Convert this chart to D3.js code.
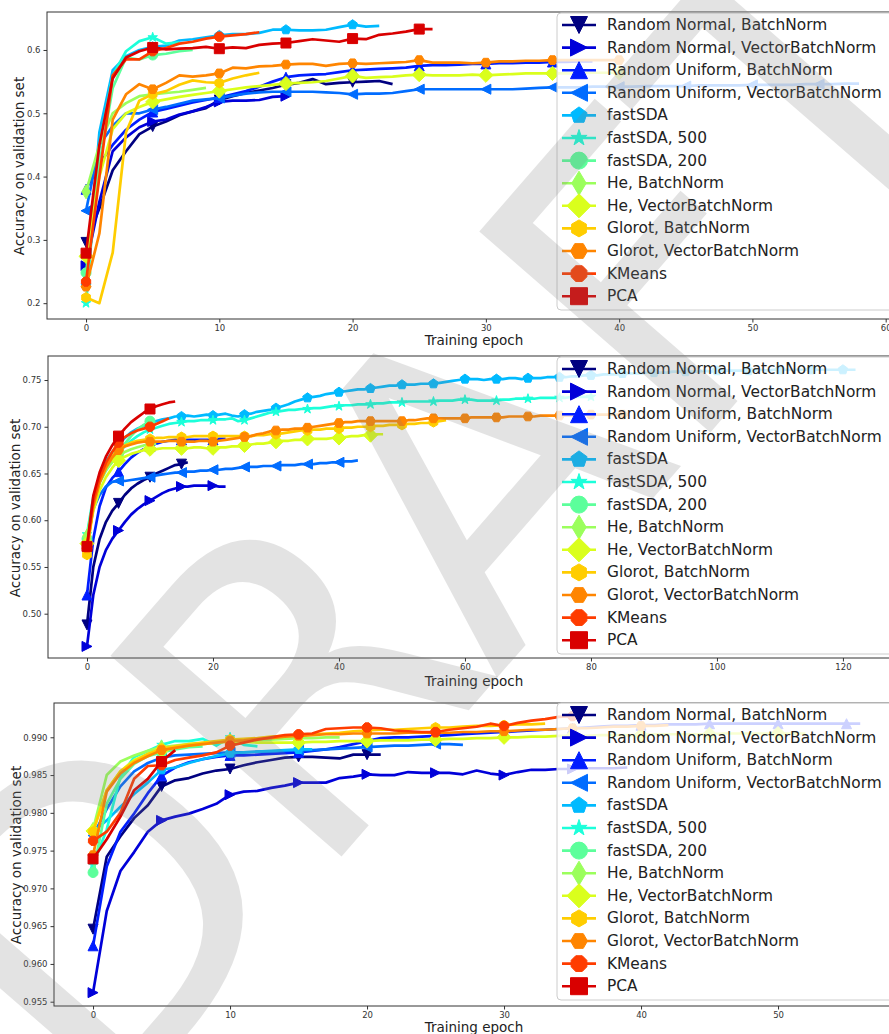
<!DOCTYPE html>
<html>
<head>
<meta charset="utf-8">
<script src="https://cdn.jsdelivr.net/npm/d3@7"></script>
<style>
  body { margin: 0; background: #fff; }
  svg { display: block; font-family: "DejaVu Sans", sans-serif; }
</style>
</head>
<body>
<svg id="chart" width="889" height="1034"></svg>
<script>
// legend entries, in plotting order
var seriesNames = [
  "Random Normal, BatchNorm", "Random Normal, VectorBatchNorm",
  "Random Uniform, BatchNorm", "Random Uniform, VectorBatchNorm",
  "fastSDA", "fastSDA, 500", "fastSDA, 200",
  "He, BatchNorm", "He, VectorBatchNorm",
  "Glorot, BatchNorm", "Glorot, VectorBatchNorm",
  "KMeans", "PCA"
];
// jet colormap sampled at i/13
var jet = ["#000080", "#0000d9", "#001dff", "#006cff", "#00baff", "#1cffda", "#5cff9b",
           "#9bff5c", "#daff1c", "#ffcd00", "#ff8500", "#ff3c00", "#d90000"];
var markerKinds = ["v", ">", "^", "<", "p", "*", "o", "d", "D", "h", "H", "8", "s"];

// ---- panel 1 : accuracy per epoch (epoch = index)
var p1RandNormBN = [0.296,0.35,0.41,0.44,0.467,0.479,0.487,0.497,0.503,0.508,0.521,0.527,0.532,0.536,0.540,0.545,0.548,0.554,0.546,0.548,0.549,0.550,0.551,0.546];
var p1RandNormVBN = [0.259,0.36,0.44,0.462,0.478,0.487,0.49,0.498,0.503,0.51,0.518,0.52,0.52,0.521,0.526,0.527];
var p1RandUnifBN = [0.38,0.42,0.45,0.474,0.49,0.502,0.507,0.512,0.517,0.521,0.525,
  0.53,0.535,0.542,0.55,0.557,0.56,0.561,0.562,0.565,0.568,
  0.569,0.57,0.571,0.572,0.575,0.576,0.576,0.577,0.578,0.578,
  0.579,0.579,0.58,0.58,0.581,0.581,0.582,0.582];
var p1RandUnifVBN = [0.346,0.45,0.48,0.5,0.5,0.506,0.51,0.515,0.52,0.522,0.524,
  0.528,0.531,0.533,0.534,0.534,0.534,0.534,0.533,0.532,0.530,
  0.531,0.531,0.532,0.535,0.538,0.538,0.538,0.538,0.538,0.538,
  0.538,0.538,0.539,0.540,0.541,0.541,0.541,0.542,0.542,0.542,
  0.542,0.543,0.543,0.543,0.543,0.544,0.544,0.544,0.544,0.545,
  0.545,0.545,0.545,0.546,0.546,0.546,0.547,0.547];
var p1FastSDA = [0.228,0.47,0.568,0.59,0.6,0.605,0.607,0.615,0.617,0.62,0.623,0.625,0.625,0.627,0.632,0.632,0.631,0.631,0.632,0.636,0.64,0.637,0.638];
var p1FastSDA500 = [0.2,0.45,0.56,0.598,0.614,0.62,0.61,0.612];
var p1FastSDA200 = [0.248,0.42,0.54,0.588,0.585,0.592,0.594,0.598,0.6];
var p1HeBN = [0.376,0.45,0.50,0.516,0.527,0.53,0.532,0.534,0.537,0.54];
var p1HeVBN = [0.274,0.40,0.475,0.50,0.51,0.518,0.522,0.526,0.529,0.532,0.535,
  0.538,0.541,0.543,0.545,0.547,0.548,0.549,0.551,0.555,0.559,
  0.556,0.557,0.558,0.560,0.561,0.560,0.560,0.560,0.561,0.560,
  0.561,0.562,0.563,0.563,0.563,0.563,0.563,0.564,0.564,0.564];
var p1GlorotBN = [0.209,0.2,0.28,0.47,0.52,0.53,0.535,0.545,0.552,0.549,0.548,0.555,0.56,0.564];
var p1GlorotVBN = [0.226,0.31,0.49,0.53,0.546,0.538,0.548,0.56,0.558,0.56,0.563,
  0.572,0.571,0.574,0.575,0.577,0.578,0.578,0.575,0.578,0.579,
  0.578,0.579,0.58,0.581,0.584,0.58,0.58,0.58,0.579,0.58,
  0.582,0.582,0.583,0.583,0.584,0.584,0.584,0.584,0.584,0.584];
var p1KMeans = [0.234,0.40,0.56,0.585,0.585,0.598,0.603,0.61,0.613,0.618,0.621,0.623,0.625,0.628];
var p1PCA = [0.279,0.45,0.555,0.588,0.598,0.604,0.601,0.602,0.603,0.605,0.602,0.604,0.603,0.608,0.61,0.611,0.614,0.617,0.615,0.613,0.618,0.617,0.624,0.626,0.629,0.633,0.633];

// ---- panel 2
var p2RandNormBN = [0.488,0.55,0.58,0.598,0.61,0.618,0.627,0.634,0.639,0.643,0.646,0.65,0.653,0.656,0.659,0.66,0.662];
var p2RandNormVBN = [0.465,0.52,0.55,0.568,0.58,0.589,0.598,0.606,0.612,0.617,0.621,0.625,0.629,0.632,0.634,0.636,0.636,0.637,0.637,0.637,0.637,0.636,0.636];
var p2RandUnifBN = [0.52,0.58,0.615,0.635,0.645,0.652,0.66,0.667,0.672,0.676,0.679,0.682,0.684,0.685,0.686,0.686,0.686,0.686,0.686,0.686,0.686,0.687,0.687];
var p2RandUnifVBN = [0.575,0.612,0.627,0.636,0.641,0.642,0.642,0.643,0.644,0.645,0.646,
  0.648,0.649,0.65,0.651,0.651,0.652,0.652,0.653,0.653,0.654,
  0.654,0.655,0.655,0.656,0.657,0.657,0.657,0.658,0.658,0.658,
  0.659,0.659,0.659,0.66,0.66,0.66,0.661,0.661,0.662,0.662,
  0.663,0.663,0.664];
var p2FastSDA = [0.567,0.62,0.648,0.663,0.673,0.680,0.688,0.694,0.698,0.701,0.704,
  0.706,0.708,0.709,0.711,0.711,0.712,0.711,0.712,0.713,0.712,
  0.713,0.714,0.712,0.711,0.713,0.714,0.716,0.717,0.718,0.720,
  0.722,0.724,0.727,0.729,0.731,0.732,0.733,0.735,0.736,0.737,
  0.738,0.739,0.740,0.740,0.741,0.742,0.743,0.744,0.744,0.745,
  0.745,0.745,0.746,0.746,0.746,0.747,0.748,0.749,0.750,0.751,
  0.751,0.751,0.750,0.751,0.751,0.751,0.752,0.752,0.751,0.752,
  0.752,0.752,0.753,0.753,0.753,0.753,0.754,0.754,0.755,0.755,
  0.755,0.756,0.756,0.756,0.757,0.757,0.757,0.757,0.758,0.758,
  0.758,0.758,0.759,0.759,0.759,0.759,0.759,0.760,0.759,0.760,
  0.760,0.760,0.760,0.760,0.760,0.760,0.761,0.760,0.761,0.761,
  0.761,0.761,0.761,0.761,0.761,0.761,0.761,0.761,0.761,0.761,
  0.761,0.761];
var p2FastSDA500 = [0.585,0.625,0.645,0.657,0.665,0.672,0.679,0.685,0.690,0.694,0.697,
  0.699,0.701,0.703,0.704,0.705,0.706,0.706,0.707,0.707,0.707,
  0.708,0.708,0.709,0.706,0.707,0.709,0.711,0.713,0.715,0.716,
  0.717,0.718,0.718,0.719,0.719,0.720,0.720,0.721,0.722,0.722,
  0.723,0.723,0.724,0.724,0.724,0.725,0.725,0.726,0.726,0.726,
  0.727,0.727,0.727,0.727,0.727,0.728,0.728,0.728,0.729,0.729,
  0.729,0.728,0.728,0.728,0.728,0.729,0.729,0.730,0.730,0.730,
  0.730,0.731,0.731,0.731,0.731,0.731,0.732,0.732,0.732,0.732];
var p2FastSDA200 = [0.58,0.62,0.64,0.653,0.663,0.671,0.682,0.69,0.697,0.702,0.706];
var p2HeBN = [0.583,0.62,0.641,0.654,0.662,0.668,0.673,0.676,0.678,0.68,0.681,0.682];
var p2HeVBN = [0.575,0.61,0.632,0.646,0.656,0.664,0.668,0.671,0.673,0.675,0.676,
  0.676,0.677,0.677,0.677,0.677,0.677,0.678,0.678,0.677,0.677,
  0.678,0.678,0.679,0.679,0.680,0.681,0.682,0.682,0.683,0.684,
  0.685,0.685,0.686,0.686,0.687,0.687,0.687,0.687,0.688,0.688,
  0.689,0.690,0.690,0.691,0.691,0.692,0.692];
var p2GlorotBN = [0.563,0.615,0.641,0.657,0.668,0.676,0.680,0.683,0.685,0.686,0.687,
  0.688,0.688,0.689,0.689,0.689,0.689,0.690,0.690,0.690,0.690,
  0.690,0.690,0.690,0.690,0.690,0.690,0.691,0.691,0.692,0.692,
  0.693,0.694,0.695,0.696,0.696,0.697,0.697,0.698,0.698,0.698,
  0.699,0.699,0.700,0.700,0.700,0.701,0.701,0.702,0.702,0.702,
  0.703,0.703,0.704,0.704,0.705,0.706,0.707];
var p2GlorotVBN = [0.570,0.615,0.640,0.656,0.667,0.675,0.679,0.681,0.683,0.684,0.684,
  0.684,0.684,0.685,0.685,0.684,0.684,0.684,0.685,0.685,0.684,
  0.685,0.686,0.687,0.688,0.689,0.690,0.692,0.693,0.695,0.696,
  0.697,0.697,0.698,0.698,0.699,0.700,0.701,0.702,0.703,0.704,
  0.705,0.705,0.706,0.706,0.706,0.706,0.706,0.706,0.706,0.706,
  0.707,0.707,0.708,0.709,0.709,0.709,0.709,0.709,0.709,0.709,
  0.710,0.710,0.710,0.710,0.710,0.710,0.711,0.711,0.711,0.711,
  0.711,0.712,0.712,0.712,0.712,0.712,0.712,0.712,0.713,0.713,
  0.713,0.713,0.713,0.713,0.713,0.713];
var p2KMeans = [0.572,0.62,0.645,0.661,0.673,0.683,0.689,0.693,0.696,0.698,0.7,0.703,0.706,0.709];
var p2PCA = [0.572,0.626,0.651,0.668,0.68,0.69,0.698,0.705,0.71,0.715,0.719,0.722,0.724,0.726,0.727];

// ---- panel 3
var p3RandNormBN = [0.9646,0.9742,0.9769,0.9793,0.9810,0.9835,0.9843,0.9846,0.9852,0.9856,0.9858,0.9863,0.9867,0.9870,0.9873,0.9874,0.9874,0.9873,0.9872,0.9877,0.9877,0.9877];
var p3RandNormVBN = [0.9562,0.9670,0.9723,0.9748,0.9775,0.9790,0.9795,0.9799,0.9805,0.9812,0.9824,
  0.9828,0.9829,0.9833,0.9836,0.9840,0.9840,0.9840,0.9846,0.9848,0.9851,
  0.9850,0.9850,0.9854,0.9853,0.9853,0.9853,0.9851,0.9856,0.9852,0.9850,
  0.9854,0.9857,0.9857,0.9858,0.9858,0.9859,0.9859,0.9859,0.9860];
var p3RandUnifBN = [0.9624,0.9729,0.9775,0.9799,0.9826,0.9849,0.9860,0.9867,0.9871,0.9874,0.9876,
  0.9876,0.9877,0.9878,0.9879,0.9880,0.9882,0.9884,0.9887,0.9891,0.9895,
  0.9899,0.9900,0.9900,0.9901,0.9902,0.9903,0.9904,0.9905,0.9906,0.9907,
  0.9908,0.9909,0.9910,0.9911,0.9912,0.9913,0.9914,0.9915,0.9915,0.9916,
  0.9916,0.9917,0.9917,0.9917,0.9918,0.9918,0.9918,0.9918,0.9918,0.9918,
  0.9918,0.9918,0.9918,0.9918,0.9918,0.9918];
var p3RandUnifVBN = [0.9770,0.9805,0.9835,0.9855,0.9866,0.9873,0.9876,0.9877,0.9878,0.9879,0.9880,
  0.9880,0.9881,0.9881,0.9882,0.9883,0.9883,0.9884,0.9885,0.9886,0.9887,
  0.9888,0.9889,0.9889,0.9890,0.9891,0.9891,0.9890];
var p3FastSDA = [0.9775,0.9790,0.9808,0.9825,0.9840,0.9857,0.9860,0.9866,0.9871,0.9875,0.9879,0.9880,0.9881,0.9882,0.9883,0.9884,0.9884];
var p3FastSDA500 = [0.9731,0.9778,0.9848,0.9874,0.9882,0.9890,0.9895,0.9895,0.9898,0.9889,0.9900,0.9890,0.9888];
var p3FastSDA200 = [0.9721,0.9812,0.9845,0.9865,0.9875,0.9880,0.9884,0.9887,0.9888];
var p3HeBN = [0.9778,0.9850,0.9868,0.9876,0.9882,0.9887,0.9889,0.9891,0.9892,0.9893,0.9895,0.9896,0.9896,0.9897,0.9898,0.9899,0.9899,0.9900,0.9900];
var p3HeVBN = [0.9776,0.9830,0.9855,0.9870,0.9878,0.9883,0.9886,0.9889,0.9891,0.9893,0.9895,
  0.9894,0.9893,0.9893,0.9893,0.9893,0.9894,0.9894,0.9895,0.9895,0.9895,
  0.9896,0.9896,0.9896,0.9897,0.9897,0.9898,0.9898,0.9899,0.9899,0.9900,
  0.9900,0.9901,0.9901,0.9902,0.9902,0.9902,0.9903,0.9903,0.9903,0.9903,
  0.9904,0.9904,0.9904,0.9904,0.9904,0.9905,0.9905,0.9905,0.9905,0.9905,
  0.9905,0.9905];
var p3GlorotBN = [0.9775,0.9830,0.9855,0.9868,0.9878,0.9885,0.9888,0.9891,0.9893,0.9895,0.9897,
  0.9898,0.9899,0.9901,0.9902,0.9903,0.9904,0.9905,0.9906,0.9908,0.9909,
  0.9910,0.9910,0.9911,0.9912,0.9913,0.9913,0.9914,0.9915,0.9915,0.9916,
  0.9917,0.9917,0.9918];
var p3GlorotVBN = [0.9744,0.9828,0.9852,0.9866,0.9875,0.9883,0.9886,0.9889,0.9891,0.9893,0.9895,
  0.9896,0.9898,0.9899,0.9901,0.9902,0.9903,0.9904,0.9904,0.9905,0.9905,
  0.9905,0.9905,0.9906,0.9906,0.9906,0.9906,0.9907,0.9907,0.9908,0.9908,
  0.9909,0.9910,0.9910,0.9911,0.9912,0.9912,0.9913,0.9914,0.9914,0.9915,
  0.9915,0.9916];
var p3KMeans = [0.9763,0.9775,0.9800,0.9845,0.9862,0.9863,0.9870,0.9873,0.9876,0.9880,0.9889,
  0.9893,0.9897,0.9900,0.9903,0.9904,0.9905,0.9911,0.9912,0.9913,0.9913,
  0.9912,0.9909,0.9908,0.9907,0.9907,0.9910,0.9912,0.9914,0.9918,0.9915,
  0.9919,0.9922,0.9924,0.9927,0.9928,0.9929];
var p3PCA = [0.9739,0.9765,0.9795,0.9830,0.9845,0.9868,0.9883];

// ticks
var xTicks1 = [0, 10, 20, 30, 40, 50, 60];
var yTicks1 = [0.2, 0.3, 0.4, 0.5, 0.6];
var xTicks2 = [0, 20, 40, 60, 80, 100, 120];
var yTicks2 = [0.50, 0.55, 0.60, 0.65, 0.70, 0.75];
var xTicks3 = [0, 10, 20, 30, 40, 50];
var yTicks3 = [0.955, 0.960, 0.965, 0.970, 0.975, 0.980, 0.985, 0.990];

var panels = [
  { series: [p1RandNormBN, p1RandNormVBN, p1RandUnifBN, p1RandUnifVBN, p1FastSDA, p1FastSDA500, p1FastSDA200,
             p1HeBN, p1HeVBN, p1GlorotBN, p1GlorotVBN, p1KMeans, p1PCA],
    left: 47, right: 899, top: 12, bottom: 319,
    xDom: [-2.93, 61], yDom: [0.175, 0.66], xTicks: xTicks1, yTicks: yTicks1, fmt: ".1f",
    ylabY: 166, ylabX: 19, xlabY: 340, legTop: 13, legFirst: 25 },
  { series: [p2RandNormBN, p2RandNormVBN, p2RandUnifBN, p2RandUnifVBN, p2FastSDA, p2FastSDA500, p2FastSDA200,
             p2HeBN, p2HeVBN, p2GlorotBN, p2GlorotVBN, p2KMeans, p2PCA],
    left: 48, right: 899, top: 356, bottom: 658,
    xDom: [-6.19, 128.9], yDom: [0.4526, 0.7757], xTicks: xTicks2, yTicks: yTicks2, fmt: ".2f",
    ylabY: 508, ylabX: 15, xlabY: 681, legTop: 357, legFirst: 369 },
  { series: [p3RandNormBN, p3RandNormVBN, p3RandUnifBN, p3RandUnifVBN, p3FastSDA, p3FastSDA500, p3FastSDA200,
             p3HeBN, p3HeVBN, p3GlorotBN, p3GlorotVBN, p3KMeans, p3PCA],
    left: 54, right: 899, top: 703, bottom: 1006,
    xDom: [-2.85, 58.83], yDom: [0.95443, 0.99454], xTicks: xTicks3, yTicks: yTicks3, fmt: ".3f",
    ylabY: 855, ylabX: 16, xlabY: 1027, legTop: 703, legFirst: 715 }
];

// matplotlib-like marker outlines, ms = marker size in px
function markerPath(kind, ms) {
  var h = ms / 2;
  function poly(n, rot, rad) {
    return d3.range(n).map(function (i) {
      var a = rot + i * 2 * Math.PI / n;
      return [rad * Math.sin(a), -rad * Math.cos(a)];
    });
  }
  var pts;
  if (kind === "o") {
    return "M" + h + ",0A" + h + "," + h + " 0 1,1 " + (-h) + ",0A" + h + "," + h + " 0 1,1 " + h + ",0Z";
  }
  if (kind === "^") pts = [[0, -h], [h, h], [-h, h]];
  if (kind === "v") pts = [[0, h], [h, -h], [-h, -h]];
  if (kind === ">") pts = [[h, 0], [-h, h], [-h, -h]];
  if (kind === "<") pts = [[-h, 0], [h, h], [h, -h]];
  if (kind === "s") pts = [[-h, -h], [h, -h], [h, h], [-h, h]];
  if (kind === "p") pts = poly(5, 0, h);
  if (kind === "h") pts = poly(6, 0, h);
  if (kind === "H") pts = poly(6, Math.PI / 6, h);
  if (kind === "8") pts = poly(8, Math.PI / 8, h);
  if (kind === "D") { var k = h * 1.414; pts = [[0, -k], [k, 0], [0, k], [-k, 0]]; }
  if (kind === "d") { var k2 = h * 1.414; pts = [[0, -k2], [0.6 * k2, 0], [0, k2], [-0.6 * k2, 0]]; }
  if (kind === "*") {
    var outer = poly(5, 0, h), inner = poly(5, Math.PI / 5, h * 0.382);
    pts = [];
    for (var i = 0; i < 5; i++) { pts.push(outer[i]); pts.push(inner[i]); }
  }
  return "M" + pts.map(function (p) { return p[0].toFixed(2) + "," + p[1].toFixed(2); }).join("L") + "Z";
}

var svg = d3.select("#chart");

panels.forEach(function (p, pi) {
  var x = d3.scaleLinear().domain(p.xDom).range([p.left, p.right]);
  var y = d3.scaleLinear().domain(p.yDom).range([p.bottom, p.top]);
  var g = svg.append("g");

  g.append("clipPath").attr("id", "clip" + pi)
    .append("rect").attr("x", p.left).attr("y", p.top)
    .attr("width", p.right - p.left).attr("height", p.bottom - p.top);

  // axes
  g.append("g").attr("transform", "translate(0," + p.bottom + ")")
    .call(d3.axisBottom(x).tickValues(p.xTicks).tickFormat(d3.format("d")).tickSize(3.5).tickPadding(2))
    .call(function (a) {
      a.select(".domain").remove();
      a.selectAll("line").attr("stroke", "#333");
      a.selectAll("text").attr("font-size", 8.5).attr("fill", "#333").attr("font-family", "DejaVu Sans");
    });
  g.append("g").attr("transform", "translate(" + p.left + ",0)")
    .call(d3.axisLeft(y).tickValues(p.yTicks).tickFormat(d3.format(p.fmt)).tickSize(3.5).tickPadding(3))
    .call(function (a) {
      a.select(".domain").remove();
      a.selectAll("line").attr("stroke", "#333");
      a.selectAll("text").attr("font-size", 8.5).attr("fill", "#333").attr("font-family", "DejaVu Sans");
    });

  // lines + markers
  var plot = g.append("g").attr("clip-path", "url(#clip" + pi + ")");
  var line = d3.line().x(function (d, i) { return x(i); }).y(function (d) { return y(d); });
  p.series.forEach(function (vals, si) {
    var col = jet[si];
    plot.append("path").attr("d", line(vals)).attr("fill", "none")
      .attr("stroke", col).attr("stroke-width", 2.7).attr("stroke-linejoin", "round");
    plot.selectAll(null).data(vals.map(function (v, i) { return [i, v]; }).filter(function (d) { return d[0] % 5 === 0; }))
      .enter().append("path")
      .attr("d", markerPath(markerKinds[si], 10))
      .attr("transform", function (d) { return "translate(" + x(d[0]) + "," + y(d[1]) + ")"; })
      .attr("fill", col).attr("stroke", col).attr("stroke-width", 1);
  });

  // frame
  g.append("rect").attr("x", p.left).attr("y", p.top)
    .attr("width", p.right - p.left).attr("height", p.bottom - p.top)
    .attr("fill", "none").attr("stroke", "#333").attr("stroke-width", 1);

  // labels
  g.append("text").attr("transform", "translate(" + p.ylabX + "," + p.ylabY + ") rotate(-90)")
    .attr("text-anchor", "middle").attr("dominant-baseline", "central")
    .attr("font-size", 13.5).attr("fill", "#222").text("Accuracy on validation set");
  g.append("text").attr("x", 474).attr("y", p.xlabY)
    .attr("text-anchor", "middle").attr("dominant-baseline", "central")
    .attr("font-size", 13.5).attr("fill", "#222").text("Training epoch");

  // legend
  var leg = g.append("g");
  leg.append("rect").attr("x", 557).attr("y", p.legTop).attr("width", 360).attr("height", 297)
    .attr("rx", 4).attr("fill", "#fff").attr("fill-opacity", 0.8)
    .attr("stroke", "#ccc").attr("stroke-width", 1);
  seriesNames.forEach(function (name, si) {
    var cy = p.legFirst + si * 22.6;
    leg.append("line").attr("x1", 562).attr("x2", 596).attr("y1", cy).attr("y2", cy)
      .attr("stroke", jet[si]).attr("stroke-width", 2.6);
    leg.append("path").attr("d", markerPath(markerKinds[si], 17))
      .attr("transform", "translate(579," + cy + ")")
      .attr("fill", jet[si]).attr("stroke", jet[si]).attr("stroke-width", 1);
    leg.append("text").attr("x", 607).attr("y", cy).attr("dominant-baseline", "central")
      .attr("font-size", 15.4).attr("fill", "#222").text(name);
  });
});

// watermark
svg.append("text")
  .attr("transform", "translate(444,517) rotate(-49)")
  .attr("text-anchor", "middle").attr("dominant-baseline", "central")
  .attr("font-size", 420).attr("font-family", "DejaVu Sans")
  .attr("fill", "#808080").attr("fill-opacity", 0.22)
  .text("DRAFT");
</script>
</body>
</html>
